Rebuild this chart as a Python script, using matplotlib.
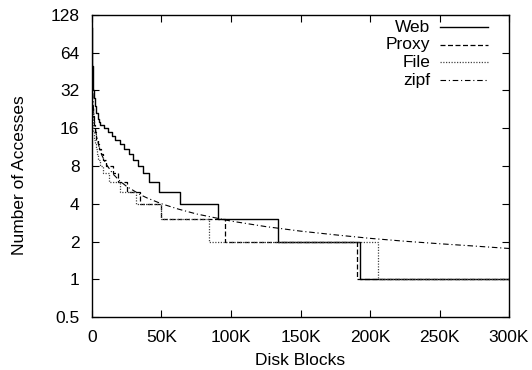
import matplotlib
matplotlib.use("Agg")
import matplotlib.pyplot as plt

plt.rcParams['font.family'] = ['Liberation Sans', 'DejaVu Sans']

# rank-frequency data: access count per level and the block rank (in K) where that level ends
web_counts = [100, 70, 50, 40, 32, 28, 24, 21, 19, 18, 17, 16, 15, 14, 13, 12, 11, 10, 9, 8, 7, 6, 5, 4, 3, 2, 1]
web_end_k = [0.1, 0.3, 0.6, 1.0, 1.6, 2.2, 3.0, 4.0, 4.8, 5.5, 8.6, 11.5, 14.4, 16.8, 19.9, 23, 26.4, 29.5, 33, 36.7, 40.8, 48, 63, 91, 134, 193, 300]

proxy_counts = [30, 24, 20, 17, 15, 13, 12, 11, 10, 9, 8, 7, 6, 5, 4, 3, 2, 1]
proxy_end_k = [0.2, 0.6, 1.2, 2.0, 3.0, 4.2, 5.3, 6.5, 8.0, 10, 15, 19, 25, 34.5, 50, 96, 191, 300]

file_counts = [28, 22, 18, 15, 13, 12, 11, 10, 9, 8, 7, 6, 5, 4, 3, 2, 1]
file_end_k = [0.2, 0.5, 0.9, 1.5, 2.2, 3.0, 3.6, 4.3, 5.5, 7.7, 12, 20, 32, 50, 84, 206, 300]

zipf_k = [0.05, 0.1, 0.2, 0.5, 1, 2, 3, 5, 7, 10, 15, 20, 25, 35, 40, 50, 62, 75, 100, 125, 150, 175, 200, 225, 250, 275, 300]
zipf_y = [94, 68.4, 50, 32.8, 23.9, 17.4, 14.5, 11.5, 9.82, 8.35, 6.93, 6.08, 5.49, 4.71, 4.43, 4.0, 3.63, 3.32, 2.91, 2.63, 2.42, 2.26, 2.12, 2.01, 1.92, 1.84, 1.76]

x_ticks = [0, 50, 100, 150, 200, 250, 300]
x_labels = ['0', '50K', '100K', '150K', '200K', '250K', '300K']
y_ticks = [0.5, 1, 2, 4, 8, 16, 32, 64, 128]
y_labels = ['0.5', '1', '2', '4', '8', '16', '32', '64', '128']

fig = plt.figure(figsize=(5.32, 3.70), dpi=100)
ax = fig.add_axes([0.1729, 0.1432, 0.7839, 0.8163])


def step_series(counts, ends):
    xs = [0] + ends
    ys = counts + [counts[-1]]
    return xs, ys


styles = [
    ('Web', web_counts, web_end_k, dict(color='black', lw=1.0, linestyle='-')),
    ('Proxy', proxy_counts, proxy_end_k, dict(color='black', lw=0.9, dashes=[4, 2])),
    ('File', file_counts, file_end_k, dict(color='#444444', lw=0.9, dashes=[1, 1.2])),
]
handles = []
for name, counts, ends, st in styles:
    xs, ys = step_series(counts, ends)
    ax.step(xs, ys, where='post', **st)
    handles.append((name, st))

zipf_st = dict(color='black', lw=0.8, dashes=[5, 2.5, 1, 2.5])
ax.plot(zipf_k, zipf_y, **zipf_st)
handles.append(('zipf', zipf_st))

ax.set_yscale('log', base=2)
ax.set_xlim(0, 300)
ax.set_ylim(0.5, 128)
ax.set_xticks(x_ticks)
ax.set_xticklabels(x_labels)
ax.set_yticks(y_ticks)
ax.set_yticklabels(y_labels)
ax.minorticks_off()
ax.tick_params(direction='in', length=5, width=0.8, labelsize=12.5, pad=9,
               top=True, right=True)
for sp in ax.spines.values():
    sp.set_linewidth(1.0)

ax.set_xlabel('Disk Blocks', fontsize=12.5, labelpad=6)
ax.set_ylabel('Number of Accesses', fontsize=12.5)
ax.yaxis.set_label_coords(-0.155, 0.47)

# gnuplot-style key: right aligned text, sample line on the right
for i, (name, st) in enumerate(handles):
    y = 0.96 - i * 0.0585
    ax.text(0.811, y, name, transform=ax.transAxes, ha='right', va='center', fontsize=12.5)
    ax.plot([0.834, 0.95], [y, y], transform=ax.transAxes, **st)

fig.savefig('out.png', dpi=100)
